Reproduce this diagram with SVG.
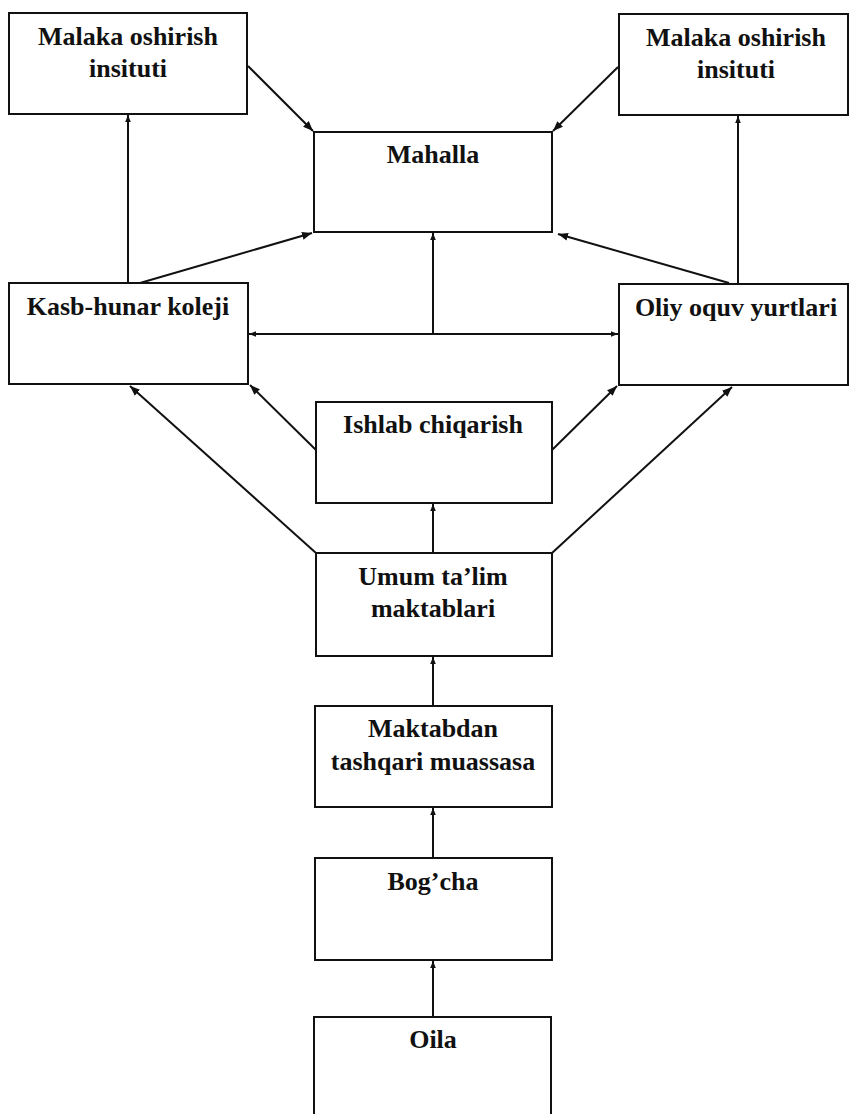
<svg xmlns="http://www.w3.org/2000/svg" width="854" height="1114" viewBox="0 0 854 1114">
<style>
.box{fill:#fff;stroke:#111;stroke-width:2}
.t{font-family:"Liberation Serif","Times New Roman",serif;font-weight:bold;font-size:26px;fill:#111;text-anchor:middle}
.c{stroke:#111;stroke-width:2;fill:none}
</style>
<defs>
<marker id="ah" viewBox="0 0 10 10" refX="10" refY="5" markerWidth="10" markerHeight="10" markerUnits="userSpaceOnUse" orient="auto"><path d="M0,1 L10,5 L0,9 Z" fill="#111"/></marker>
<marker id="as" viewBox="0 0 10 10" refX="10" refY="5" markerWidth="7" markerHeight="7" markerUnits="userSpaceOnUse" orient="auto-start-reverse"><path d="M0,1 L10,5 L0,9 Z" fill="#111"/></marker>
</defs>
<rect width="854" height="1114" fill="#fff"/>
<g id="connectors">
<line class="c" x1="248" y1="66" x2="313" y2="131" marker-end="url(#ah)"/>
<line class="c" x1="618" y1="67" x2="553" y2="131" marker-end="url(#ah)"/>
<line class="c" x1="128" y1="283" x2="128" y2="115" marker-end="url(#as)"/>
<line class="c" x1="738" y1="284" x2="738" y2="116" marker-end="url(#as)"/>
<line class="c" x1="140" y1="283" x2="312" y2="233" marker-end="url(#ah)"/>
<line class="c" x1="729" y1="283" x2="558" y2="234" marker-end="url(#ah)"/>
<line class="c" x1="249" y1="334" x2="618" y2="334" marker-start="url(#as)" marker-end="url(#as)"/>
<line class="c" x1="433" y1="334" x2="433" y2="233" marker-end="url(#as)"/>
<line class="c" x1="316" y1="450" x2="250" y2="385" marker-end="url(#ah)"/>
<line class="c" x1="552" y1="450" x2="617" y2="386" marker-end="url(#ah)"/>
<line class="c" x1="316" y1="553" x2="130" y2="386" marker-end="url(#ah)"/>
<line class="c" x1="552" y1="553" x2="732" y2="387" marker-end="url(#ah)"/>
<line class="c" x1="433" y1="553" x2="433" y2="504" marker-end="url(#as)"/>
<line class="c" x1="433" y1="706" x2="433" y2="657" marker-end="url(#as)"/>
<line class="c" x1="433" y1="858" x2="433" y2="808" marker-end="url(#as)"/>
<line class="c" x1="433" y1="1017" x2="433" y2="961" marker-end="url(#as)"/>
</g>
<g id="n-malaka-left"><rect class="box" x="9" y="13" width="238" height="101"/><text class="t" x="128" y="45">Malaka oshirish</text><text class="t" x="128" y="77">insituti</text></g>
<g id="n-malaka-right"><rect class="box" x="619" y="14" width="229" height="101"/><text class="t" x="736" y="46">Malaka oshirish</text><text class="t" x="736" y="78">insituti</text></g>
<g id="n-mahalla"><rect class="box" x="314" y="132" width="238" height="100"/><text class="t" x="433" y="163">Mahalla</text></g>
<g id="n-kasb"><rect class="box" x="9" y="283" width="239" height="101"/><text class="t" x="128" y="315">Kasb-hunar koleji</text></g>
<g id="n-oliy"><rect class="box" x="619" y="284" width="229" height="101"/><text class="t" x="736" y="316">Oliy oquv yurtlari</text></g>
<g id="n-ishlab"><rect class="box" x="316" y="402" width="236" height="101"/><text class="t" x="433" y="433">Ishlab chiqarish</text></g>
<g id="n-umum"><rect class="box" x="316" y="553" width="236" height="103"/><text class="t" x="433" y="585">Umum ta’lim</text><text class="t" x="433" y="617">maktablari</text></g>
<g id="n-maktabdan"><rect class="box" x="315" y="706" width="237" height="101"/><text class="t" x="433" y="737">Maktabdan</text><text class="t" x="433" y="770">tashqari muassasa</text></g>
<g id="n-bogcha"><rect class="box" x="315" y="858" width="237" height="102"/><text class="t" x="433" y="890">Bog’cha</text></g>
<g id="n-oila"><rect class="box" x="314" y="1017" width="237" height="110"/><text class="t" x="433" y="1048">Oila</text></g>
</svg>
